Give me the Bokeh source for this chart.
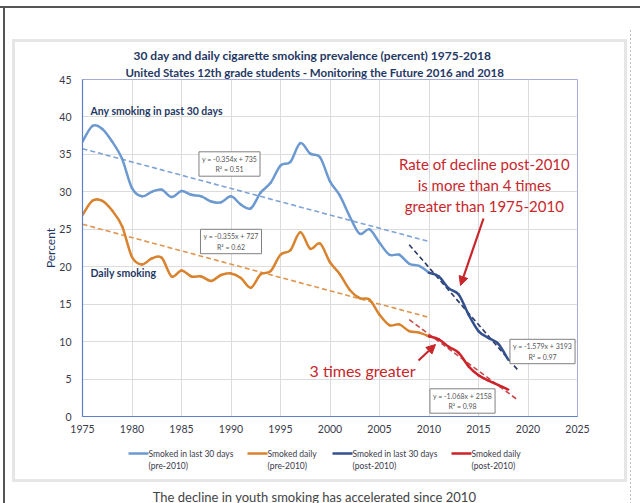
import numpy as np
from bokeh.plotting import figure
from bokeh.layouts import column
from bokeh.models import Label, Arrow, NormalHead, FixedTicker, Title, Range1d
from bokeh.core.properties import value
from bokeh.embed import file_html
from bokeh.resources import INLINE

# ---------------- data ----------------
years = list(range(1975, 2019))
smoked_30day = [36.7, 38.8, 38.4, 36.7, 34.4, 30.5, 29.4, 30.0, 30.3, 29.3,
                30.1, 29.6, 29.4, 28.7, 28.6, 29.4, 28.3, 27.8, 29.9, 31.2,
                33.5, 34.0, 36.5, 35.1, 34.6, 31.4, 29.5, 26.7, 24.4, 25.0,
                23.2, 21.6, 21.6, 20.4, 20.1, 19.2, 18.7, 17.1, 16.3, 13.6,
                11.4, 10.5, 9.7, 7.6]
smoked_daily = [26.9, 28.8, 28.8, 27.5, 25.4, 21.3, 20.3, 21.1, 21.2, 18.7,
                19.5, 18.7, 18.7, 18.1, 18.9, 19.1, 18.5, 17.2, 19.0, 19.4,
                21.6, 22.2, 24.6, 22.4, 23.1, 20.6, 19.0, 16.9, 15.8, 15.6,
                13.6, 12.2, 12.3, 11.4, 11.2, 10.7, 10.3, 9.3, 8.5, 6.7,
                5.5, 4.8, 4.2, 3.6]
split_year = 2010
x_ticks = [1975, 1980, 1985, 1990, 1995, 2000, 2005, 2010, 2015, 2020, 2025]
y_ticks = [0, 5, 10, 15, 20, 25, 30, 35, 40, 45]
eq_pre_30 = "y = -0.354x + 735\nR\u00b2 = 0.51"
eq_pre_daily = "y = -0.355x + 727\nR\u00b2 = 0.62"
eq_post_30 = "y = -1.579x + 3193\nR\u00b2 = 0.97"
eq_post_daily = "y = -1.068x + 2158\nR\u00b2 = 0.98"
legend_line1 = ["Smoked in last 30 days", "Smoked daily",
                "Smoked in last 30 days", "Smoked daily"]
legend_line2 = ["(pre-2010)", "(pre-2010)", "(post-2010)", "(post-2010)"]
title_1 = "30 day and daily cigarette smoking prevalence (percent) 1975-2018"
title_2 = "United States 12th grade students - Monitoring the Future 2016 and 2018"
caption = "The decline in youth smoking has accelerated since 2010"
post_backward = 2
post_forward = 1

# ---------------- styles ----------------
C_PRE30 = "#6b99d0"
C_PREDAILY = "#d9832f"
C_POST30 = "#34508e"
C_POSTDAILY = "#cc2229"
C_RED = "#c8262b"
C_NAVY = "#1f3864"
C_TXT = "#3a3a4a"
FONT = "Lato"

W, H = 640, 503
H1 = 440                       # main chart height, legend strip below
FL, FT, FW, FH = 82, 79, 495, 337
MR, MB = W - FL - FW, H1 - FT - FH
FB = FT + FH


def sx(px):
    return px - FL


def sy(py):
    return FB - py


p = figure(width=W, height=H1, x_range=(1975, 2025), y_range=(0, 45),
           output_backend="svg", toolbar_location=None,
           min_border_left=FL, min_border_right=MR, min_border_top=FT,
           min_border_bottom=MB)
p.title.text = ""
p.title.standoff = 0
p.background_fill_color = "white"
p.border_fill_color = None
p.outline_line_color = "#a3acd8"
p.outline_line_width = 1

p.xaxis.ticker = FixedTicker(ticks=x_ticks)
p.yaxis.ticker = FixedTicker(ticks=y_ticks)
for ax in (p.xaxis, p.yaxis):
    ax.major_tick_line_color = None
    ax.minor_tick_line_color = None
    ax.major_tick_out = 0
    ax.major_tick_in = 0
    ax.axis_line_color = "#5b7fc8"
    ax.axis_line_width = 1.2
    ax.major_label_text_font = FONT
    ax.major_label_text_font_size = "10.5px"
    ax.major_label_text_color = C_TXT
p.xaxis.major_label_standoff = 8
p.yaxis.major_label_standoff = 11
p.yaxis.axis_label = "Percent"
p.yaxis.axis_label_text_font = FONT
p.yaxis.axis_label_text_font_size = "12px"
p.yaxis.axis_label_text_font_style = "normal"
p.yaxis.axis_label_text_color = C_NAVY
p.yaxis.axis_label_standoff = -2
p.xgrid.ticker = FixedTicker(ticks=x_ticks)
p.ygrid.ticker = FixedTicker(ticks=y_ticks)
p.xgrid.grid_line_color = "#dcdcdc"
p.ygrid.grid_line_color = "#dcdcdc"

# ---------------- series ----------------
yr = np.array(years, dtype=float)
s30 = np.array(smoked_30day)
sd = np.array(smoked_daily)
pre = yr <= split_year
post = yr >= split_year


def trend(xs, ys, x0, x1, color):
    k, b = np.polyfit(xs, ys, 1)
    xx = np.array([x0, x1])
    p.line(xx, k * xx + b, line_color=color, line_width=1.6, line_dash="5 3")


def smooth_line(xs, ys, color):
    # Excel-style smoothed line: cubic Bezier segments between data points
    n = len(xs)
    xp = np.concatenate([[xs[0]], xs, [xs[-1]]])
    yp = np.concatenate([[ys[0]], ys, [ys[-1]]])
    x0, y0 = xs[:-1], ys[:-1]
    x1, y1 = xs[1:], ys[1:]
    cx0 = x0 + (xp[2:n + 1] - xp[0:n - 1]) / 6.0
    cy0 = y0 + (yp[2:n + 1] - yp[0:n - 1]) / 6.0
    cx1 = x1 - (xp[3:n + 2] - xp[1:n]) / 6.0
    cy1 = y1 - (yp[3:n + 2] - yp[1:n]) / 6.0
    return p.bezier(x0=x0, y0=y0, x1=x1, y1=y1, cx0=cx0, cy0=cy0, cx1=cx1, cy1=cy1,
                    line_color=color, line_width=2.5, line_cap="round")


trend(yr[pre], s30[pre], yr[pre][0], split_year, "#7ea3d6")
trend(yr[pre], sd[pre], yr[pre][0], split_year, "#e0954f")
trend(yr[post], s30[post], split_year - post_backward, yr[-1] + post_forward, "#2b3a66")
trend(yr[post], sd[post], split_year - post_backward, yr[-1] + post_forward, "#c9494a")

smooth_line(yr[pre], s30[pre], C_PRE30)
smooth_line(yr[pre], sd[pre], C_PREDAILY)
smooth_line(yr[post], s30[post], C_POST30)
smooth_line(yr[post], sd[post], C_POSTDAILY)

# ---------------- titles (stacked above the frame) ----------------
for txt, size, left in ((title_2, "11.5px", 125), (title_1, "12px", 133)):
    p.add_layout(Title(text=txt, align="left", offset=left - FL, text_font=FONT,
                       text_font_size=size, text_font_style="bold",
                       text_color=C_NAVY, standoff=1, text_line_height=1.1), "above")


# ---------------- in-plot annotations ----------------
def lab(text, px, py, size, color, style="normal", align="left", **kw):
    p.add_layout(Label(x=sx(px), y=sy(py), x_units="screen", y_units="screen",
                       text=text, text_font=FONT, text_font_size=size,
                       text_color=color, text_font_style=style,
                       text_align=align, text_baseline="middle", **kw))


lab("Any smoking in past 30 days", 90, 110, "10.5px", C_NAVY, "bold")
lab("Daily smoking", 90, 272, "10.5px", C_NAVY, "bold")

for txt, cx, cy in [(eq_pre_30, 229, 163.5), (eq_pre_daily, 230.5, 241),
                    (eq_post_30, 542, 351), (eq_post_daily, 462, 400.5)]:
    lab(txt, cx, cy, "7px", "#555555", "normal", "center",
        background_fill_color="white", border_line_color="#808080",
        border_line_width=1, padding=3, text_line_height=1.3)

lab("Rate of decline post-2010", 484, 163, "15px", C_RED, "normal", "center")
lab("is more than 4 times", 484, 184, "15px", C_RED, "normal", "center")
lab("greater than 1975-2010", 484, 205, "15px", C_RED, "normal", "center")
lab("3 times greater", 362, 370, "16px", C_RED, "normal", "center")
for (x0, y0, x1, y1) in [(483, 218, 460, 285), (418, 360, 435, 344)]:
    p.add_layout(Arrow(x_start=sx(x0), y_start=sy(y0), x_end=sx(x1), y_end=sy(y1),
                       start_units="screen", end_units="screen",
                       line_color=C_RED, line_width=2.2,
                       end=NormalHead(size=9, fill_color=C_RED, line_color=C_RED)))

# ---------------- legend strip (x in page pixels, frame aligned with chart) ----------------
H2 = H - H1
q = figure(width=W, height=H2, x_range=Range1d(FL, FL + FW), y_range=Range1d(H2, 0),
           output_backend="svg", toolbar_location=None,
           x_axis_type=None, y_axis_type=None,
           min_border_left=FL, min_border_right=MR, min_border_top=0, min_border_bottom=0)
q.title.text = ""
q.title.standoff = 0
q.grid.visible = False
q.outline_line_color = None
q.background_fill_color = None
q.border_fill_color = None

legend_colors = [C_PRE30, C_PREDAILY, C_POST30, C_POSTDAILY]
leg_x = np.array([128, 247, 332, 451], dtype=float)
ly1, ly2 = 453 - H1, 465 - H1
q.segment(x0=leg_x, y0=[ly1] * 4, x1=leg_x + 20, y1=[ly1] * 4,
          line_color=legend_colors, line_width=2.5)
q.text(x=leg_x + 20, y=[ly1] * 4, text=legend_line1, text_font=value(FONT),
       text_font_size=value("8.5px"), text_color=C_TXT, text_baseline="middle")
q.text(x=leg_x + 20, y=[ly2] * 4, text=legend_line2, text_font=value(FONT),
       text_font_size=value("8.5px"), text_color=C_TXT, text_baseline="middle")
q.text(x=[314], y=[496 - H1], text=[caption], text_font=value(FONT),
       text_font_size=value("13px"), text_color="#444444", text_align="center",
       text_baseline="middle")

layout = column(p, q, spacing=0)
# page decorations (outer frame lines, chart card border, dotted divider)
layout.styles = {
    "background":
        "linear-gradient(#555,#555) 0px 6px / 640px 2px no-repeat,"
        "linear-gradient(#555,#555) 3px 6px / 2px 497px no-repeat,"
        "linear-gradient(#e6e6e6,#e6e6e6) 12px 39px / 615px 3px no-repeat,"
        "linear-gradient(#e6e6e6,#e6e6e6) 12px 479px / 615px 3px no-repeat,"
        "linear-gradient(#e6e6e6,#e6e6e6) 12px 39px / 3px 443px no-repeat,"
        "linear-gradient(#e6e6e6,#e6e6e6) 624px 39px / 3px 443px no-repeat,"
        "repeating-linear-gradient(to bottom, #bdbdbd 0px, #bdbdbd 2px, transparent 2px, transparent 4px) 630px 30px / 1px 473px no-repeat,"
        "white"
}

open("out.html", "w").write(file_html(layout, INLINE))
